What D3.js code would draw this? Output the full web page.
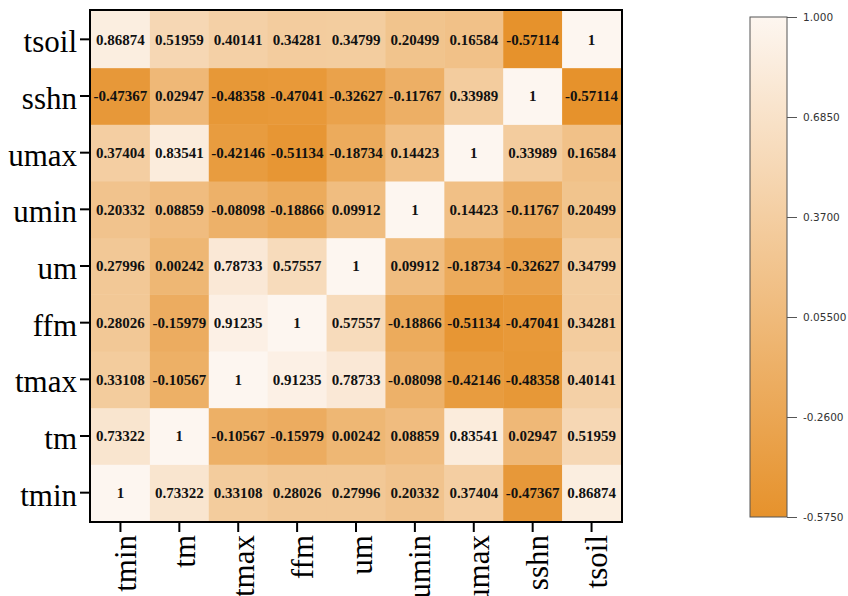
<!DOCTYPE html>
<html lang="en">
<head>
    <meta charset="UTF-8">
    <title>Correlation Heatmap</title>
    <script src="https://d3js.org/d3.v7.min.js"></script>
    <style>
        body {
            margin: 0;
            background: #fff;
        }
    </style>
</head>
<body>
    <div id="chart"></div>
    <script>
        // variable order along the x axis (left to right) and y axis (bottom to top)
        const variables = ['tmin', 'tm', 'tmax', 'ffm', 'um', 'umin', 'umax', 'sshn', 'tsoil'];

        // correlation rows, one per variable, columns in the same order as `variables`
        const rowTmin  = [1, 0.73322, 0.33108, 0.28026, 0.27996, 0.20332, 0.37404, -0.47367, 0.86874];
        const rowTm    = [0.73322, 1, -0.10567, -0.15979, 0.00242, 0.08859, 0.83541, 0.02947, 0.51959];
        const rowTmax  = [0.33108, -0.10567, 1, 0.91235, 0.78733, -0.08098, -0.42146, -0.48358, 0.40141];
        const rowFfm   = [0.28026, -0.15979, 0.91235, 1, 0.57557, -0.18866, -0.51134, -0.47041, 0.34281];
        const rowUm    = [0.27996, 0.00242, 0.78733, 0.57557, 1, 0.09912, -0.18734, -0.32627, 0.34799];
        const rowUmin  = [0.20332, 0.08859, -0.08098, -0.18866, 0.09912, 1, 0.14423, -0.11767, 0.20499];
        const rowUmax  = [0.37404, 0.83541, -0.42146, -0.51134, -0.18734, 0.14423, 1, 0.33989, 0.16584];
        const rowSshn  = [-0.47367, 0.02947, -0.48358, -0.47041, -0.32627, -0.11767, 0.33989, 1, -0.57114];
        const rowTsoil = [0.86874, 0.51959, 0.40141, 0.34281, 0.34799, 0.20499, 0.16584, -0.57114, 1];

        // colour bar
        const colorDomain = [-0.575, 1];
        const colorTicks = [1.0, 0.685, 0.37, 0.055, -0.26, -0.575];
        const colorTickLabels = ['1.000', '0.6850', '0.3700', '0.05500', '-0.2600', '-0.5750'];

        const rows = [rowTmin, rowTm, rowTmax, rowFfm, rowUm, rowUmin, rowUmax, rowSshn, rowTsoil];
        const cells = [];
        rows.forEach((r, i) => r.forEach((v, j) => cells.push({ row: variables[i], col: variables[j], value: v })));

        const W = 848, H = 596;
        const plot = { left: 91, top: 11, right: 621, bottom: 521 };
        const serif = '"Liberation Serif", "Times New Roman", serif';

        const svg = d3.select('#chart')
            .append('svg')
            .attr('width', W)
            .attr('height', H);

        const x = d3.scaleBand().domain(variables).range([plot.left, plot.right]);
        const y = d3.scaleBand().domain(variables).range([plot.bottom, plot.top]);

        const color = d3.scaleLinear()
            .domain(colorDomain)
            .range(['#E6922C', '#FDF6F0'])
            .interpolate(d3.interpolateRgb)
            .clamp(true);

        // cells
        svg.append('g')
            .selectAll('rect')
            .data(cells)
            .enter()
            .append('rect')
            .attr('x', d => x(d.col))
            .attr('y', d => y(d.row))
            .attr('width', x.bandwidth() + 0.5)
            .attr('height', y.bandwidth() + 0.5)
            .attr('fill', d => color(d.value));

        // cell values
        svg.append('g')
            .selectAll('text')
            .data(cells)
            .enter()
            .append('text')
            .attr('x', d => x(d.col) + x.bandwidth() / 2)
            .attr('y', d => y(d.row) + y.bandwidth() / 2)
            .attr('dy', '0.35em')
            .attr('text-anchor', 'middle')
            .style('font-family', serif)
            .style('font-weight', 'bold')
            .style('font-size', '15px')
            .style('fill', '#111')
            .text(d => String(d.value));

        // frame
        svg.append('rect')
            .attr('x', plot.left - 1)
            .attr('y', plot.top - 1)
            .attr('width', plot.right - plot.left + 2)
            .attr('height', plot.bottom - plot.top + 2)
            .attr('fill', 'none')
            .attr('stroke', '#000')
            .attr('stroke-width', 2);

        // y axis
        const yAxis = svg.append('g')
            .attr('transform', `translate(${plot.left - 1},0)`)
            .call(d3.axisLeft(y).tickSize(10).tickPadding(3));
        yAxis.select('.domain').remove();
        yAxis.selectAll('.tick line').attr('stroke', '#000').attr('stroke-width', 2);
        yAxis.selectAll('.tick text')
            .attr('dy', '0.42em')
            .style('font-family', serif)
            .style('font-size', '31px')
            .style('fill', '#000');

        // x axis
        const xAxis = svg.append('g')
            .attr('transform', `translate(0,${plot.bottom + 1})`)
            .call(d3.axisBottom(x).tickSize(10).tickPadding(3));
        xAxis.select('.domain').remove();
        xAxis.selectAll('.tick line').attr('stroke', '#000').attr('stroke-width', 2);
        xAxis.selectAll('.tick text')
            .attr('transform', 'rotate(-90)')
            .attr('x', -13)
            .attr('y', 0)
            .attr('dy', '0.5em')
            .attr('text-anchor', 'end')
            .style('font-family', serif)
            .style('font-size', '31px')
            .style('fill', '#000');

        // colour bar
        const bar = { left: 750, width: 37, top: 17, bottom: 517 };
        const cScale = d3.scaleLinear().domain(colorDomain).range([bar.bottom, bar.top]);

        const grad = svg.append('defs')
            .append('linearGradient')
            .attr('id', 'cbar')
            .attr('x1', 0).attr('y1', 1)
            .attr('x2', 0).attr('y2', 0);
        grad.append('stop').attr('offset', '0%').attr('stop-color', color(colorDomain[0]));
        grad.append('stop').attr('offset', '100%').attr('stop-color', color(colorDomain[1]));

        svg.append('rect')
            .attr('x', bar.left)
            .attr('y', bar.top)
            .attr('width', bar.width)
            .attr('height', bar.bottom - bar.top)
            .attr('fill', 'url(#cbar)')
            .attr('stroke', '#555')
            .attr('stroke-width', 1);

        const cAxis = svg.append('g')
            .attr('transform', `translate(${bar.left + bar.width},0)`)
            .call(d3.axisRight(cScale)
                .tickValues(colorTicks)
                .tickFormat((d, i) => colorTickLabels[i])
                .tickSize(10)
                .tickPadding(6));
        cAxis.select('.domain').remove();
        cAxis.selectAll('.tick line').attr('stroke', '#555');
        cAxis.selectAll('.tick text')
            .style('font-family', '"DejaVu Sans", sans-serif')
            .style('font-size', '10.5px')
            .style('fill', '#333');
    </script>
</body>
</html>
